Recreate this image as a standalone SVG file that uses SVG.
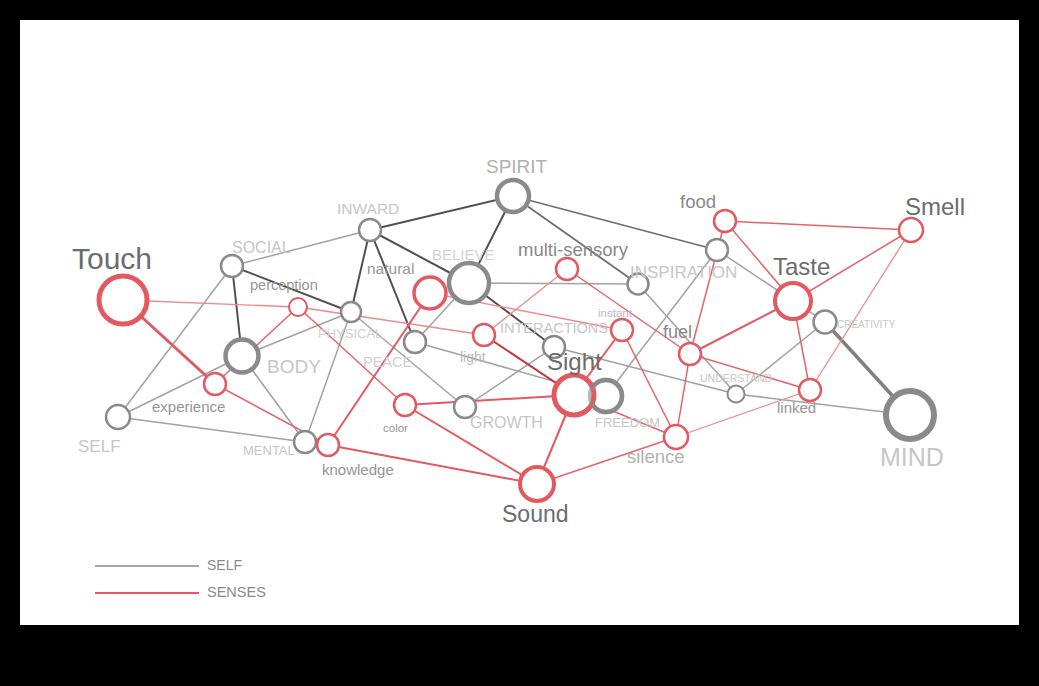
<svg xmlns="http://www.w3.org/2000/svg" width="1039" height="686" viewBox="0 0 1039 686">
<style>
text{font-family:"Liberation Sans",Arial,sans-serif}
.g{fill:#fff;stroke:#8a8a8a;stroke-width:2.5}
.r{fill:#fff;stroke:#e4585f;stroke-width:2.5}
.big{stroke-width:4.5}
.lS{fill:#c6c6c6}
.lR{fill:#959595}
.lB{fill:#6c6c6c}
.dk{stroke:#505050;stroke-width:2;fill:none}
.md{stroke:#6e6e6e;stroke-width:1.8;fill:none}
.lt{stroke:#a2a2a2;stroke-width:1.5;fill:none}
.rd{stroke:#e4646a;stroke-width:1.5;fill:none}
.rd2{stroke:#e4585f;stroke-width:2;fill:none}
.rl{stroke:#ec8a8e;stroke-width:1.3;fill:none}
</style>
<rect x="0" y="0" width="1039" height="686" fill="#000"/>
<rect x="20" y="20" width="999" height="605" fill="#fff"/>
<g id="connectors">
<line class="dk" x1="513" y1="196" x2="370" y2="230"/>
<line class="dk" x1="513" y1="196" x2="469" y2="283"/>
<line class="dk" x1="370" y1="230" x2="469" y2="283"/>
<line class="dk" x1="370" y1="230" x2="351" y2="312"/>
<line class="dk" x1="370" y1="230" x2="415" y2="342"/>
<line class="dk" x1="232" y1="266" x2="351" y2="312"/>
<line class="dk" x1="232" y1="266" x2="242" y2="356"/>
<line class="dk" x1="469" y1="283" x2="554" y2="347"/>
<line class="md" x1="513" y1="196" x2="717" y2="250"/>
<line class="md" x1="513" y1="196" x2="638" y2="284"/>
<line stroke="#808080" stroke-width="3.5" x1="825" y1="322" x2="910" y2="415"/>
<line class="lt" x1="370" y1="230" x2="232" y2="266"/>
<line class="lt" x1="232" y1="266" x2="118" y2="417"/>
<line class="lt" x1="118" y1="417" x2="242" y2="356"/>
<line class="lt" x1="118" y1="417" x2="305" y2="442"/>
<line class="lt" x1="242" y1="356" x2="351" y2="312"/>
<line class="lt" x1="242" y1="356" x2="305" y2="442"/>
<line class="lt" x1="305" y1="442" x2="351" y2="312"/>
<line class="lt" x1="351" y1="312" x2="465" y2="407"/>
<line class="lt" x1="415" y1="342" x2="469" y2="283"/>
<line class="lt" x1="415" y1="342" x2="606" y2="396"/>
<line class="lt" x1="469" y1="283" x2="638" y2="284"/>
<line class="lt" x1="554" y1="347" x2="465" y2="407"/>
<line class="lt" x1="554" y1="347" x2="736" y2="394"/>
<line class="lt" x1="736" y1="394" x2="910" y2="415"/>
<line class="lt" x1="638" y1="284" x2="736" y2="394"/>
<line class="lt" x1="717" y1="250" x2="606" y2="396"/>
<line class="lt" x1="717" y1="250" x2="825" y2="322"/>
<line class="lt" x1="825" y1="322" x2="736" y2="394"/>
<line class="rl" x1="123" y1="300" x2="298" y2="307"/>
<line class="rl" x1="298" y1="307" x2="484" y2="335"/>
<line class="rd" x1="298" y1="307" x2="215" y2="384"/>
<line class="rd" x1="298" y1="307" x2="405" y2="405"/>
<line class="rd" x1="215" y1="384" x2="328" y2="445"/>
<line class="rd2" x1="430" y1="293" x2="328" y2="445"/>
<line class="rl" x1="430" y1="293" x2="622" y2="330"/>
<line class="rd2" x1="328" y1="445" x2="537" y2="484"/>
<line class="rd2" x1="405" y1="405" x2="537" y2="484"/>
<line class="rd2" x1="405" y1="405" x2="574" y2="395"/>
<line stroke="#c8323a" stroke-width="2" x1="484" y1="335" x2="574" y2="395"/>
<line class="rl" x1="567" y1="269" x2="484" y2="335"/>
<line class="rd" x1="567" y1="269" x2="690" y2="354"/>
<line class="rd2" x1="622" y1="330" x2="574" y2="395"/>
<line class="rd" x1="622" y1="330" x2="676" y2="437"/>
<line class="rd" x1="690" y1="354" x2="676" y2="437"/>
<line class="rd" x1="725" y1="221" x2="690" y2="354"/>
<line class="rd" x1="725" y1="221" x2="793" y2="301"/>
<line class="rd" x1="725" y1="221" x2="911" y2="230"/>
<line class="rd" x1="911" y1="230" x2="793" y2="301"/>
<line class="rl" x1="911" y1="230" x2="810" y2="390"/>
<line class="rd2" x1="793" y1="301" x2="690" y2="354"/>
<line class="rd" x1="793" y1="301" x2="810" y2="390"/>
<line class="rd" x1="690" y1="354" x2="810" y2="390"/>
<line class="rl" x1="810" y1="390" x2="676" y2="437"/>
<line class="rd" x1="574" y1="395" x2="676" y2="437"/>
<line class="rd2" x1="574" y1="395" x2="537" y2="484"/>
<line class="rd" x1="537" y1="484" x2="676" y2="437"/>
<line stroke="#e4585f" stroke-width="3" x1="123" y1="300" x2="215" y2="384"/>
</g>
<g id="n-spirit"><circle class="g big" cx="513" cy="196" r="16"/><text x="486" y="173" font-size="19" fill="#b0b0b0">SPIRIT</text></g>
<g id="n-inward"><circle class="g" cx="370" cy="230" r="11"/><text class="lS" x="337" y="214" font-size="15.5">INWARD</text></g>
<g id="n-social"><circle class="g" cx="232" cy="266" r="11"/><text class="lS" x="232" y="253" font-size="16">SOCIAL</text></g>
<g id="n-believe"><circle class="g big" cx="469" cy="283" r="20"/><text x="432" y="260" font-size="15" fill="#d2d2d2">BELIEVE</text></g>
<g id="n-inspiration"><circle class="g" cx="638" cy="284" r="10.5"/><text class="lS" x="630" y="278" font-size="17">INSPIRATION</text></g>
<g id="n-upper"><circle class="g" cx="717" cy="250" r="11"/></g>
<g id="n-physical"><circle class="g" cx="351" cy="312" r="10"/><text x="318" y="338" font-size="13" fill="#d0d0d0">PHYSICAL</text></g>
<g id="n-body"><circle class="g big" cx="242" cy="356" r="16.5"/><text class="lS" x="267" y="373" font-size="19">BODY</text></g>
<g id="n-peace"><circle class="g" cx="415" cy="342" r="11"/><text x="363" y="367" font-size="14.5" fill="#d0d0d0">PEACE</text></g>
<g id="n-interactions"><circle class="g" cx="554" cy="347" r="11"/><text class="lS" x="500" y="333" font-size="14.5">INTERACTIONS</text></g>
<g id="n-growth"><circle class="g" cx="465" cy="407" r="11"/><text class="lS" x="470" y="428" font-size="16">GROWTH</text></g>
<g id="n-understand"><circle class="g" cx="736" cy="394" r="8.5" style="stroke-width:2"/><text class="lS" x="700" y="382" font-size="10.5">UNDERSTAND</text></g>
<g id="n-creativity"><circle class="g" cx="825" cy="322" r="11.5"/><text class="lS" x="837" y="328" font-size="10">CREATIVITY</text></g>
<g id="n-mind"><circle class="g" cx="910" cy="415" r="24" style="stroke-width:6"/><text class="lS" x="880" y="466" font-size="25">MIND</text></g>
<g id="n-self"><circle class="g" cx="118" cy="417" r="12"/><text class="lS" x="78" y="452" font-size="17">SELF</text></g>
<g id="n-mental"><circle class="g" cx="305" cy="442" r="11"/><text class="lS" x="243" y="455" font-size="13">MENTAL</text></g>
<g id="n-touch"><circle class="r" cx="123" cy="300" r="24" style="stroke-width:5"/><text class="lB" x="72" y="269" font-size="30">Touch</text></g>
<g id="n-perception"><circle class="r" cx="298" cy="307" r="9" style="stroke-width:2"/><text class="lR" x="250" y="290" font-size="14.5">perception</text></g>
<g id="n-natural"><circle class="r" cx="430" cy="293" r="16" style="stroke-width:3.5"/><text class="lR" x="367" y="274" font-size="15.5">natural</text></g>
<g id="n-multisensory"><circle class="r" cx="567" cy="269" r="11"/><text x="518" y="256" font-size="18.5" fill="#888">multi-sensory</text></g>
<g id="n-food"><circle class="r" cx="725" cy="221" r="11"/><text x="680" y="208" font-size="18.5" fill="#888">food</text></g>
<g id="n-smell"><circle class="r" cx="911" cy="230" r="12"/><text class="lB" x="905" y="215" font-size="24">Smell</text></g>
<g id="n-taste"><circle class="r" cx="793" cy="301" r="18" style="stroke-width:4"/><text class="lB" x="773" y="275" font-size="24">Taste</text></g>
<g id="n-instant"><circle class="r" cx="622" cy="330" r="11"/><text x="598" y="317" font-size="11.5" fill="#bbb">instant</text></g>
<g id="n-light"><circle class="r" cx="484" cy="335" r="11"/><text x="460" y="362" font-size="14" fill="#bbb">light</text></g>
<g id="n-fuel"><circle class="r" cx="690" cy="354" r="11"/><text x="663" y="338" font-size="18" fill="#888">fuel</text></g>
<g id="n-experience"><circle class="r" cx="215" cy="384" r="11"/><text class="lR" x="152" y="412" font-size="15">experience</text></g>
<g id="n-color"><circle class="r" cx="405" cy="405" r="11"/><text class="lR" x="383" y="432" font-size="11.5">color</text></g>
<g id="n-linked"><circle class="r" cx="810" cy="390" r="11"/><text class="lR" x="777" y="413" font-size="15">linked</text></g>
<g id="n-silence"><circle class="r" cx="676" cy="437" r="12"/><text x="627" y="463" font-size="18.5" fill="#b2b2b2">silence</text></g>
<g id="n-knowledge"><circle class="r" cx="328" cy="445" r="11"/><text class="lR" x="322" y="475" font-size="15">knowledge</text></g>
<g id="n-sound"><circle class="r" cx="537" cy="484" r="17" style="stroke-width:4"/><text class="lB" x="502" y="522" font-size="23">Sound</text></g>
<g id="n-freedom"><circle class="g big" cx="606" cy="396" r="16"/><text class="lS" x="595" y="427" font-size="13">FREEDOM</text></g>
<g id="n-sight"><circle class="r" cx="574" cy="395" r="20" style="stroke-width:5"/><circle cx="606" cy="396" r="16" fill="none" stroke="#8a8a8a" stroke-width="4.5" stroke-opacity="0.6"/><text class="lB" x="547" y="370" font-size="24">Sight</text></g>
<g id="legend">
<line x1="95" y1="566" x2="199" y2="566" stroke="#a8a8a8" stroke-width="2"/>
<text x="207" y="570" font-size="14" fill="#8a8a8a">SELF</text>
<line x1="95" y1="593" x2="199" y2="593" stroke="#e4585f" stroke-width="2"/>
<text x="207" y="597" font-size="14.5" fill="#8a8a8a">SENSES</text>
</g>
</svg>
